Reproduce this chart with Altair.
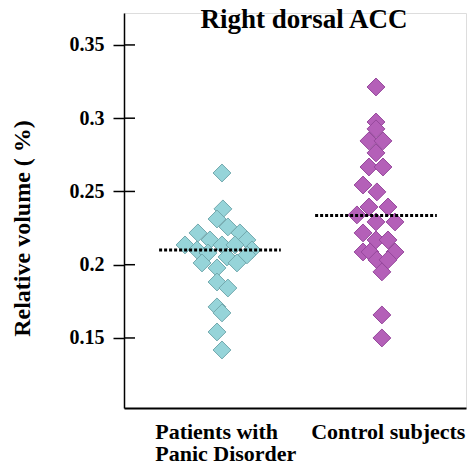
import altair as alt
import pandas as pd

# ---- data ----
groups = ["Patients with\nPanic Disorder", "Control subjects"]
group_pos = [1, 2]

patients_vals = [0.2626, 0.2381, 0.2312, 0.2258, 0.2217, 0.2217, 0.2169, 0.2169,
                 0.2135, 0.2135, 0.2135, 0.2101, 0.2101, 0.2080, 0.2067, 0.2053,
                 0.2012, 0.2012, 0.1978, 0.1882, 0.1841, 0.1712, 0.1671, 0.1541,
                 0.1418]
patients_jit = [0.013, 0.019, -0.019, 0.051, -0.141, 0.128, -0.064, 0.173,
                -0.224, 0.013, 0.096, -0.147, 0.205, -0.077, 0.173, 0.045,
                -0.115, 0.109, -0.019, -0.019, 0.051, -0.019, 0.013, -0.019,
                0.013]

control_vals = [0.3213, 0.2974, 0.2927, 0.2845, 0.2845, 0.2763, 0.2667, 0.2667,
                0.2544, 0.2497, 0.2394, 0.2394, 0.2340, 0.2292, 0.2292, 0.2217,
                0.2169, 0.2169, 0.2087, 0.2087, 0.2087, 0.2033, 0.2033, 0.1951,
                0.1657, 0.1500]
control_jit = [0.0, 0.0, 0.0, -0.045, 0.045, 0.0, -0.045, 0.045,
               -0.083, 0.006, -0.045, 0.077, -0.122, 0.0, 0.122, -0.083,
               0.0, 0.077, -0.083, -0.038, 0.122, 0.006, 0.077, 0.038,
               0.038, 0.038]

means = [0.2101, 0.2336]
mean_half_width = [0.39, 0.39]
tick_values = [0.15, 0.2, 0.25, 0.3, 0.35]

fills = ["#96d4d9", "#b460b8"]
strokes = ["#73a9ae", "#96489c"]

FONT = "Liberation Serif"

rows = []
for v, j in zip(patients_vals, patients_jit):
    rows.append({"group": "Patients", "x": group_pos[0] + j, "value": v})
for v, j in zip(control_vals, control_jit):
    rows.append({"group": "Control", "x": group_pos[1] + j, "value": v})
pts = pd.DataFrame(rows)

mean_df = pd.DataFrame({
    "x": [p - h for p, h in zip(group_pos, mean_half_width)],
    "x2": [p + h for p, h in zip(group_pos, mean_half_width)],
    "value": means,
})
lab_df = pd.DataFrame({"x": [p - 0.415 for p in group_pos], "label": groups})
tick_df = pd.DataFrame({"value": tick_values})

xscale = alt.Scale(domain=[0.385, 2.577], nice=False, zero=False)
yscale = alt.Scale(domain=[0.1022, 0.3718], nice=False, zero=False)

xaxis = alt.Axis(labels=False, ticks=False, title=None, grid=False,
                 domainColor="black", domainWidth=2)
yaxis = alt.Axis(values=tick_values, format="~g", grid=False,
                 tickSize=11, tickColor="black", tickWidth=1.5,
                 domainColor="black", domainWidth=1.5,
                 labelFont=FONT, labelFontSize=20, labelFontWeight="bold",
                 labelColor="black", labelPadding=9,
                 title="Relative volume ( %)", titleFont=FONT, titleFontSize=24,
                 titleFontWeight="bold", titleColor="black",
                 titleX=-102, titleY=215, titleBaseline="middle")

points = alt.Chart(pts).mark_point(shape="diamond", filled=True, size=320,
                                   strokeWidth=1, opacity=1).encode(
    x=alt.X("x:Q", scale=xscale, axis=xaxis),
    y=alt.Y("value:Q", scale=yscale, axis=yaxis),
    fill=alt.Fill("group:N", scale=alt.Scale(domain=["Patients", "Control"], range=fills), legend=None),
    stroke=alt.Stroke("group:N", scale=alt.Scale(domain=["Patients", "Control"], range=strokes), legend=None),
)

mean_rules = alt.Chart(mean_df).mark_rule(color="black", strokeWidth=3,
                                          strokeDash=[3, 2]).encode(
    x="x:Q", x2="x2:Q", y="value:Q")

inner_ticks = alt.Chart(tick_df).mark_rule(color="black", strokeWidth=1.5).encode(
    x=alt.value(0), x2=alt.value(11), y="value:Q")

cat_labels = alt.Chart(lab_df).mark_text(
    align="left", baseline="alphabetic", lineBreak="\n", lineHeight=22,
    font=FONT, fontSize=22, fontWeight="bold", color="black").encode(
    x="x:Q", y=alt.value(426), text="label:N")

title_df = pd.DataFrame({"t": ["Right dorsal ACC"]})
title = alt.Chart(title_df).mark_text(
    align="center", baseline="alphabetic", font=FONT, fontSize=27,
    fontWeight="bold", color="black").encode(
    x=alt.value(180), y=alt.value(15), text="t:N")

chart = alt.layer(points, mean_rules, inner_ticks, cat_labels, title).properties(
    width=342, height=395,
    padding={"left": 116, "top": 5, "right": 1, "bottom": 55},
    autosize=alt.AutoSizeParams(type="none"),
).configure_view(stroke=None).configure(background="white")

chart.save("out.html", embed_options={"renderer": "svg", "actions": False})
